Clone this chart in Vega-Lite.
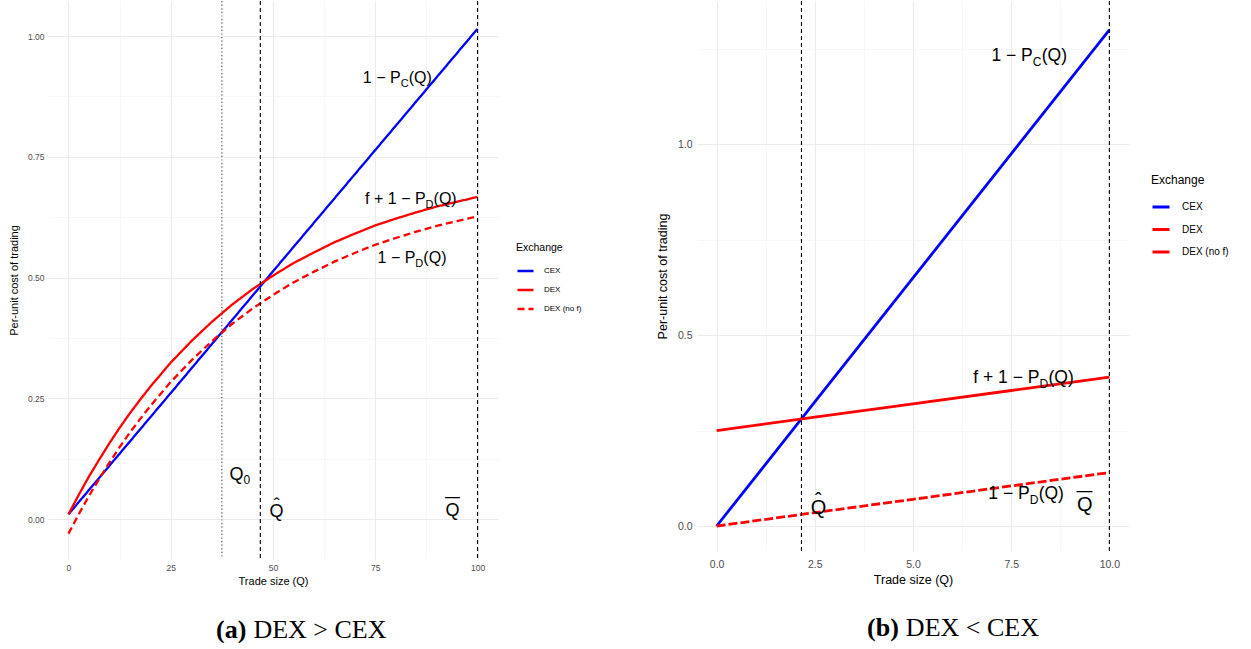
{
  "$schema": "https://vega.github.io/schema/vega-lite/v6.json",
  "background": "white",
  "padding": {"left": 8, "top": 0, "right": 0, "bottom": 0},
  "spacing": 74,
  "config": {
    "font": "Liberation Sans",
    "view": {"stroke": null},
    "axis": {"labelColor": "#4D4D4D", "titleColor": "#000000", "titleFontWeight": "normal", "domain": false, "ticks": false, "labelFont": "Liberation Sans", "titleFont": "Liberation Sans"},
    "legend": {"titleFontWeight": "normal", "padding": 0, "symbolType": "stroke", "labelColor": "#000000", "titleColor": "#000000"}
  },
  "datasets": {
    "curvesA": [
      {"Q": 0, "cost": 0.010, "Exchange": "CEX"},
      {"Q": 25, "cost": 0.261, "Exchange": "CEX"},
      {"Q": 50, "cost": 0.513, "Exchange": "CEX"},
      {"Q": 75, "cost": 0.764, "Exchange": "CEX"},
      {"Q": 100, "cost": 1.015, "Exchange": "CEX"},
      {"Q": 0, "cost": 0.010, "Exchange": "DEX"},
      {"Q": 2.5, "cost": 0.050, "Exchange": "DEX"},
      {"Q": 5, "cost": 0.088, "Exchange": "DEX"},
      {"Q": 7.5, "cost": 0.123, "Exchange": "DEX"},
      {"Q": 10, "cost": 0.157, "Exchange": "DEX"},
      {"Q": 12.5, "cost": 0.189, "Exchange": "DEX"},
      {"Q": 15, "cost": 0.219, "Exchange": "DEX"},
      {"Q": 17.5, "cost": 0.247, "Exchange": "DEX"},
      {"Q": 20, "cost": 0.274, "Exchange": "DEX"},
      {"Q": 25, "cost": 0.324, "Exchange": "DEX"},
      {"Q": 30, "cost": 0.368, "Exchange": "DEX"},
      {"Q": 35, "cost": 0.408, "Exchange": "DEX"},
      {"Q": 40, "cost": 0.444, "Exchange": "DEX"},
      {"Q": 45, "cost": 0.476, "Exchange": "DEX"},
      {"Q": 50, "cost": 0.504, "Exchange": "DEX"},
      {"Q": 55, "cost": 0.530, "Exchange": "DEX"},
      {"Q": 60, "cost": 0.552, "Exchange": "DEX"},
      {"Q": 65, "cost": 0.573, "Exchange": "DEX"},
      {"Q": 70, "cost": 0.591, "Exchange": "DEX"},
      {"Q": 75, "cost": 0.608, "Exchange": "DEX"},
      {"Q": 80, "cost": 0.622, "Exchange": "DEX"},
      {"Q": 85, "cost": 0.635, "Exchange": "DEX"},
      {"Q": 90, "cost": 0.647, "Exchange": "DEX"},
      {"Q": 95, "cost": 0.657, "Exchange": "DEX"},
      {"Q": 100, "cost": 0.667, "Exchange": "DEX"},
      {"Q": 0, "cost": -0.030, "Exchange": "DEX (no f)"},
      {"Q": 2.5, "cost": 0.010, "Exchange": "DEX (no f)"},
      {"Q": 5, "cost": 0.048, "Exchange": "DEX (no f)"},
      {"Q": 7.5, "cost": 0.083, "Exchange": "DEX (no f)"},
      {"Q": 10, "cost": 0.117, "Exchange": "DEX (no f)"},
      {"Q": 12.5, "cost": 0.149, "Exchange": "DEX (no f)"},
      {"Q": 15, "cost": 0.179, "Exchange": "DEX (no f)"},
      {"Q": 17.5, "cost": 0.207, "Exchange": "DEX (no f)"},
      {"Q": 20, "cost": 0.234, "Exchange": "DEX (no f)"},
      {"Q": 25, "cost": 0.284, "Exchange": "DEX (no f)"},
      {"Q": 30, "cost": 0.328, "Exchange": "DEX (no f)"},
      {"Q": 35, "cost": 0.368, "Exchange": "DEX (no f)"},
      {"Q": 40, "cost": 0.404, "Exchange": "DEX (no f)"},
      {"Q": 45, "cost": 0.436, "Exchange": "DEX (no f)"},
      {"Q": 50, "cost": 0.464, "Exchange": "DEX (no f)"},
      {"Q": 55, "cost": 0.490, "Exchange": "DEX (no f)"},
      {"Q": 60, "cost": 0.512, "Exchange": "DEX (no f)"},
      {"Q": 65, "cost": 0.533, "Exchange": "DEX (no f)"},
      {"Q": 70, "cost": 0.551, "Exchange": "DEX (no f)"},
      {"Q": 75, "cost": 0.568, "Exchange": "DEX (no f)"},
      {"Q": 80, "cost": 0.582, "Exchange": "DEX (no f)"},
      {"Q": 85, "cost": 0.595, "Exchange": "DEX (no f)"},
      {"Q": 90, "cost": 0.607, "Exchange": "DEX (no f)"},
      {"Q": 95, "cost": 0.617, "Exchange": "DEX (no f)"},
      {"Q": 100, "cost": 0.627, "Exchange": "DEX (no f)"}
    ],
    "vlinesA": [
      {"Q": 37.5, "kind": "dotted"},
      {"Q": 46.9, "kind": "dashed"},
      {"Q": 100, "kind": "dashed"}
    ],
    "annA": [
      {"Q": 81.2, "cost": 0.903, "pre": "1 − P", "sub": "C", "post": "(Q)"},
      {"Q": 87.3, "cost": 0.653, "pre": "f + 1 − P", "sub": "D", "post": "(Q)"},
      {"Q": 84.8, "cost": 0.531, "pre": "1 − P", "sub": "D", "post": "(Q)"}
    ],
    "qlabA": [
      {"Q": 42.8, "cost": 0.081, "pre": "Q", "sub": "0", "hat": "", "bar": ""},
      {"Q": 52.6, "cost": 0.004, "pre": "Q", "sub": "", "hat": "ˆ", "bar": ""},
      {"Q": 95.6, "cost": 0.006, "pre": "Q", "sub": "", "hat": "", "bar": "¯"}
    ],
    "capA": [
      {"Q": 43.5, "cost": -0.246, "a": "(a)", "b": "DEX > CEX"}
    ],
    "curvesB": [
      {"Q": 0, "cost": 0.0, "Exchange": "CEX"},
      {"Q": 2.5, "cost": 0.325, "Exchange": "CEX"},
      {"Q": 5, "cost": 0.65, "Exchange": "CEX"},
      {"Q": 7.5, "cost": 0.975, "Exchange": "CEX"},
      {"Q": 10, "cost": 1.30, "Exchange": "CEX"},
      {"Q": 0, "cost": 0.25, "Exchange": "DEX"},
      {"Q": 2.5, "cost": 0.285, "Exchange": "DEX"},
      {"Q": 5, "cost": 0.32, "Exchange": "DEX"},
      {"Q": 7.5, "cost": 0.355, "Exchange": "DEX"},
      {"Q": 10, "cost": 0.39, "Exchange": "DEX"},
      {"Q": 0, "cost": 0.0, "Exchange": "DEX (no f)"},
      {"Q": 2.5, "cost": 0.035, "Exchange": "DEX (no f)"},
      {"Q": 5, "cost": 0.07, "Exchange": "DEX (no f)"},
      {"Q": 7.5, "cost": 0.105, "Exchange": "DEX (no f)"},
      {"Q": 10, "cost": 0.14, "Exchange": "DEX (no f)"}
    ],
    "vlinesB": [
      {"Q": 2.16, "kind": "dashed"},
      {"Q": 10, "kind": "dashed"}
    ],
    "annB": [
      {"Q": 8.05, "cost": 1.219, "pre": "1 − P", "sub": "C", "post": "(Q)"},
      {"Q": 8.22, "cost": 0.375, "pre": "f + 1 − P", "sub": "D", "post": "(Q)"},
      {"Q": 7.97, "cost": 0.070, "pre": "1 − P", "sub": "D", "post": "(Q)"}
    ],
    "qlabB": [
      {"Q": 2.79, "cost": 0.031, "pre": "Q", "hat": "ˆ", "bar": ""},
      {"Q": 9.57, "cost": 0.039, "pre": "Q", "hat": "", "bar": "¯"}
    ],
    "capB": [
      {"Q": 4.64, "cost": -0.289, "a": "(b)", "b": "DEX < CEX"}
    ]
  },
  "resolve": {
    "scale": {"x": "independent", "y": "independent", "color": "independent", "strokeDash": "independent"},
    "legend": {"color": "independent", "strokeDash": "independent"}
  },
  "hconcat": [
    {
      "width": 450,
      "height": 558,
      "layer": [
        {
          "data": {"name": "curvesA"},
          "mark": {"type": "line", "strokeWidth": 2.3},
          "encoding": {
            "x": {"field": "Q", "type": "quantitative",
              "scale": {"domain": [-5, 105], "nice": false, "zero": false},
              "axis": {"title": "Trade size (Q)", "values": [0, 12.5, 25, 37.5, 50, 62.5, 75, 87.5, 100],
                "labelExpr": "datum.value % 25 === 0 ? format(datum.value, 'd') : ''",
                "labelFontSize": 8.5, "labelPadding": 4, "titleFontSize": 11, "titlePadding": 4,
                "gridColor": {"condition": {"test": "datum.value % 25 === 0", "value": "#EBEBEB"}, "value": "#F2F2F2"},
                "gridWidth": {"condition": {"test": "datum.value % 25 === 0", "value": 1.1}, "value": 0.6}}},
            "y": {"field": "cost", "type": "quantitative",
              "scale": {"domain": [-0.0825, 1.0725], "nice": false, "zero": false},
              "axis": {"title": "Per-unit cost of trading", "values": [0, 0.125, 0.25, 0.375, 0.5, 0.625, 0.75, 0.875, 1.0],
                "labelExpr": "datum.value % 0.25 === 0 ? format(datum.value, '.2f') : ''",
                "labelFontSize": 8.5, "labelPadding": 4, "titleFontSize": 11, "titlePadding": 8,
                "gridColor": {"condition": {"test": "datum.value % 0.25 === 0", "value": "#EBEBEB"}, "value": "#F2F2F2"},
                "gridWidth": {"condition": {"test": "datum.value % 0.25 === 0", "value": 1.1}, "value": 0.6}}},
            "color": {"field": "Exchange", "type": "nominal",
              "scale": {"domain": ["CEX", "DEX", "DEX (no f)"], "range": ["#0000FF", "#FF0000", "#FF0000"]},
              "legend": {"title": "Exchange", "orient": "none", "legendX": 468, "legendY": 242, "titleFontSize": 10.5, "labelFontSize": 8, "symbolSize": 256, "symbolStrokeWidth": 2.5, "rowPadding": 4, "titlePadding": 8, "labelOffset": 9}},
            "strokeDash": {"field": "Exchange", "type": "nominal",
              "scale": {"domain": ["CEX", "DEX", "DEX (no f)"], "range": [[1, 0], [1, 0], [7, 4]]},
              "legend": {"title": "Exchange", "orient": "none", "legendX": 468, "legendY": 242, "titleFontSize": 10.5, "labelFontSize": 8, "symbolSize": 256, "symbolStrokeWidth": 2.5, "rowPadding": 4, "titlePadding": 8, "labelOffset": 9}}
          }
        },
        {
          "data": {"name": "vlinesA"},
          "transform": [{"filter": "datum.kind === 'dotted'"}],
          "mark": {"type": "rule", "color": "#444444", "strokeWidth": 1.1, "strokeDash": [1.2, 2.4]},
          "encoding": {"x": {"field": "Q", "type": "quantitative"}}
        },
        {
          "data": {"name": "vlinesA"},
          "transform": [{"filter": "datum.kind === 'dashed'"}],
          "mark": {"type": "rule", "color": "#000000", "strokeWidth": 1.1, "strokeDash": [4, 3]},
          "encoding": {"x": {"field": "Q", "type": "quantitative"}}
        },
        {
          "data": {"name": "annA"},
          "mark": {"type": "text", "align": "right", "baseline": "alphabetic", "fontSize": 16, "color": "#000000"},
          "encoding": {"x": {"field": "Q", "type": "quantitative"}, "y": {"field": "cost", "type": "quantitative"}, "text": {"field": "pre"}}
        },
        {
          "data": {"name": "annA"},
          "mark": {"type": "text", "align": "left", "baseline": "alphabetic", "fontSize": 11, "dy": 4, "color": "#000000"},
          "encoding": {"x": {"field": "Q", "type": "quantitative"}, "y": {"field": "cost", "type": "quantitative"}, "text": {"field": "sub"}}
        },
        {
          "data": {"name": "annA"},
          "mark": {"type": "text", "align": "left", "baseline": "alphabetic", "fontSize": 16, "dx": 8, "color": "#000000"},
          "encoding": {"x": {"field": "Q", "type": "quantitative"}, "y": {"field": "cost", "type": "quantitative"}, "text": {"field": "post"}}
        },
        {
          "data": {"name": "qlabA"},
          "mark": {"type": "text", "align": "right", "baseline": "alphabetic", "fontSize": 18, "color": "#000000"},
          "encoding": {"x": {"field": "Q", "type": "quantitative"}, "y": {"field": "cost", "type": "quantitative"}, "text": {"field": "pre"}}
        },
        {
          "data": {"name": "qlabA"},
          "mark": {"type": "text", "align": "left", "baseline": "alphabetic", "fontSize": 12, "dy": 4, "color": "#000000"},
          "encoding": {"x": {"field": "Q", "type": "quantitative"}, "y": {"field": "cost", "type": "quantitative"}, "text": {"field": "sub"}}
        },
        {
          "data": {"name": "qlabA"},
          "mark": {"type": "text", "align": "center", "baseline": "alphabetic", "fontSize": 18, "dx": -7, "dy": -6, "color": "#000000"},
          "encoding": {"x": {"field": "Q", "type": "quantitative"}, "y": {"field": "cost", "type": "quantitative"}, "text": {"field": "hat"}}
        },
        {
          "data": {"name": "qlabA"},
          "mark": {"type": "text", "align": "center", "baseline": "alphabetic", "fontSize": 26, "dx": -7, "dy": 1, "color": "#000000"},
          "encoding": {"x": {"field": "Q", "type": "quantitative"}, "y": {"field": "cost", "type": "quantitative"}, "text": {"field": "bar"}}
        },
        {
          "data": {"name": "capA"},
          "mark": {"type": "text", "align": "right", "baseline": "alphabetic", "fontSize": 26, "font": "Liberation Serif", "fontWeight": "bold", "color": "#000000"},
          "encoding": {"x": {"field": "Q", "type": "quantitative"}, "y": {"field": "cost", "type": "quantitative"}, "text": {"field": "a"}}
        },
        {
          "data": {"name": "capA"},
          "mark": {"type": "text", "align": "left", "baseline": "alphabetic", "fontSize": 26, "font": "Liberation Serif", "dx": 7, "color": "#000000"},
          "encoding": {"x": {"field": "Q", "type": "quantitative"}, "y": {"field": "cost", "type": "quantitative"}, "text": {"field": "b"}}
        }
      ]
    },
    {
      "width": 432,
      "height": 550,
      "layer": [
        {
          "data": {"name": "curvesB"},
          "transform": [{"filter": "datum.Exchange !== 'DEX (no f)'"}],
          "mark": {"type": "line", "strokeWidth": 2.8},
          "encoding": {
            "x": {"field": "Q", "type": "quantitative",
              "scale": {"domain": [-0.5, 10.5], "nice": false, "zero": false},
              "axis": {"title": "Trade size (Q)", "values": [0, 1.25, 2.5, 3.75, 5, 6.25, 7.5, 8.75, 10],
                "labelExpr": "datum.value % 2.5 === 0 ? format(datum.value, '.1f') : ''",
                "labelFontSize": 10.5, "labelPadding": 8, "titleFontSize": 12.5, "titlePadding": 4,
                "gridColor": {"condition": {"test": "datum.value % 2.5 === 0", "value": "#EBEBEB"}, "value": "#F2F2F2"},
                "gridWidth": {"condition": {"test": "datum.value % 2.5 === 0", "value": 1.1}, "value": 0.6}}},
            "y": {"field": "cost", "type": "quantitative",
              "scale": {"domain": [-0.0655, 1.3755], "nice": false, "zero": false},
              "axis": {"title": "Per-unit cost of trading", "values": [0, 0.25, 0.5, 0.75, 1.0, 1.25],
                "labelExpr": "datum.value % 0.5 === 0 ? format(datum.value, '.1f') : ''",
                "labelFontSize": 10.5, "labelPadding": 5, "titleFontSize": 12.5, "titlePadding": 8,
                "gridColor": {"condition": {"test": "datum.value % 0.5 === 0", "value": "#EBEBEB"}, "value": "#F2F2F2"},
                "gridWidth": {"condition": {"test": "datum.value % 0.5 === 0", "value": 1.1}, "value": 0.6}}},
            "color": {"field": "Exchange", "type": "nominal",
              "scale": {"domain": ["CEX", "DEX", "DEX (no f)"], "range": ["#0000FF", "#FF0000", "#FF0000"]},
              "legend": {"title": "Exchange", "orient": "none", "legendX": 454, "legendY": 174, "titleFontSize": 12, "labelFontSize": 10, "symbolSize": 289, "symbolStrokeWidth": 3, "rowPadding": 6.5, "titlePadding": 10, "labelOffset": 11}}
          }
        },
        {
          "data": {"name": "curvesB"},
          "transform": [{"filter": "datum.Exchange === 'DEX (no f)'"}],
          "mark": {"type": "line", "strokeWidth": 2.8, "strokeDash": [9, 3]},
          "encoding": {
            "x": {"field": "Q", "type": "quantitative"},
            "y": {"field": "cost", "type": "quantitative"},
            "color": {"field": "Exchange", "type": "nominal"}
          }
        },
        {
          "data": {"name": "vlinesB"},
          "mark": {"type": "rule", "color": "#000000", "strokeWidth": 1.1, "strokeDash": [4, 3]},
          "encoding": {"x": {"field": "Q", "type": "quantitative"}}
        },
        {
          "data": {"name": "annB"},
          "mark": {"type": "text", "align": "right", "baseline": "alphabetic", "fontSize": 17.5, "color": "#000000"},
          "encoding": {"x": {"field": "Q", "type": "quantitative"}, "y": {"field": "cost", "type": "quantitative"}, "text": {"field": "pre"}}
        },
        {
          "data": {"name": "annB"},
          "mark": {"type": "text", "align": "left", "baseline": "alphabetic", "fontSize": 12, "dy": 5, "color": "#000000"},
          "encoding": {"x": {"field": "Q", "type": "quantitative"}, "y": {"field": "cost", "type": "quantitative"}, "text": {"field": "sub"}}
        },
        {
          "data": {"name": "annB"},
          "mark": {"type": "text", "align": "left", "baseline": "alphabetic", "fontSize": 17.5, "dx": 9, "color": "#000000"},
          "encoding": {"x": {"field": "Q", "type": "quantitative"}, "y": {"field": "cost", "type": "quantitative"}, "text": {"field": "post"}}
        },
        {
          "data": {"name": "qlabB"},
          "mark": {"type": "text", "align": "right", "baseline": "alphabetic", "fontSize": 20, "color": "#000000"},
          "encoding": {"x": {"field": "Q", "type": "quantitative"}, "y": {"field": "cost", "type": "quantitative"}, "text": {"field": "pre"}}
        },
        {
          "data": {"name": "qlabB"},
          "mark": {"type": "text", "align": "center", "baseline": "alphabetic", "fontSize": 20, "dx": -8, "dy": -7, "color": "#000000"},
          "encoding": {"x": {"field": "Q", "type": "quantitative"}, "y": {"field": "cost", "type": "quantitative"}, "text": {"field": "hat"}}
        },
        {
          "data": {"name": "qlabB"},
          "mark": {"type": "text", "align": "center", "baseline": "alphabetic", "fontSize": 28, "dx": -8, "dy": 1, "color": "#000000"},
          "encoding": {"x": {"field": "Q", "type": "quantitative"}, "y": {"field": "cost", "type": "quantitative"}, "text": {"field": "bar"}}
        },
        {
          "data": {"name": "capB"},
          "mark": {"type": "text", "align": "right", "baseline": "alphabetic", "fontSize": 26, "font": "Liberation Serif", "fontWeight": "bold", "color": "#000000"},
          "encoding": {"x": {"field": "Q", "type": "quantitative"}, "y": {"field": "cost", "type": "quantitative"}, "text": {"field": "a"}}
        },
        {
          "data": {"name": "capB"},
          "mark": {"type": "text", "align": "left", "baseline": "alphabetic", "fontSize": 26, "font": "Liberation Serif", "dx": 7, "color": "#000000"},
          "encoding": {"x": {"field": "Q", "type": "quantitative"}, "y": {"field": "cost", "type": "quantitative"}, "text": {"field": "b"}}
        }
      ]
    }
  ]
}
